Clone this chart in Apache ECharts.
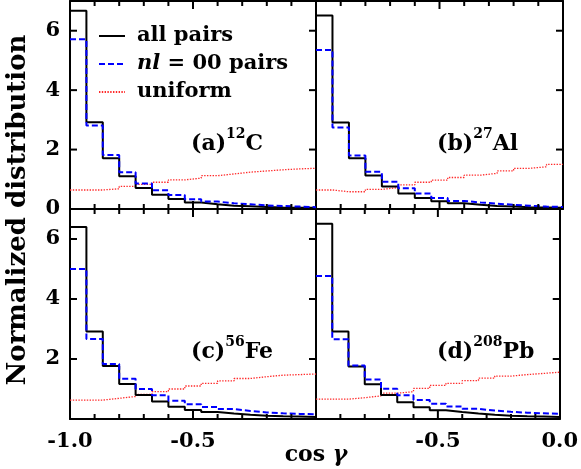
<!DOCTYPE html>
<html><head><meta charset="utf-8">
<script src="https://cdn.jsdelivr.net/npm/echarts@6/dist/echarts.min.js"></script>
<style>html,body{margin:0;padding:0;background:#fff}#c{width:581px;height:469px}</style>
</head><body><div id="c"></div>
<script>
// bin edges of cos(gamma) histogram (15 bins)
const binEdges = [-1.0, -0.9333, -0.8667, -0.8, -0.7333, -0.6667, -0.6, -0.5333, -0.4667, -0.4, -0.3333, -0.2667, -0.2, -0.1333, -0.0667, 0.0];
const xTickLabels = ['-1.0', '-0.5', '0.0'];
const yTickLabels = ['0', '2', '4', '6'];
const xMinorTicks = [-0.9, -0.8, -0.7, -0.6, -0.4, -0.3, -0.2, -0.1];
const xMajorTicks = [-0.5];
const yMajorTicks = [2, 4, 6];
const panelTags = ['(a)', '(b)', '(c)', '(d)'];
const massNumbers = ['12', '27', '56', '208'];
const elements = ['C', 'Al', 'Fe', 'Pb'];
const seriesNames = ['all pairs', 'nl = 00 pairs', 'uniform'];

// (a) 12C
const allC   = [6.67, 2.92, 1.71, 1.10, 0.71, 0.48, 0.34, 0.22, 0.16, 0.11, 0.09, 0.07, 0.05, 0.04, 0.04];
const nl00C  = [5.71, 2.81, 1.82, 1.24, 0.86, 0.63, 0.47, 0.33, 0.25, 0.19, 0.16, 0.12, 0.10, 0.08, 0.06];
const uniC   = [0.64, 0.64, 0.68, 0.76, 0.83, 0.90, 0.98, 1.04, 1.12, 1.18, 1.24, 1.28, 1.32, 1.35, 1.37];
// (b) 27Al
const allAl  = [6.51, 2.91, 1.71, 1.13, 0.76, 0.52, 0.37, 0.26, 0.19, 0.14, 0.10, 0.08, 0.06, 0.05, 0.04];
const nl00Al = [5.35, 2.74, 1.80, 1.25, 0.92, 0.70, 0.52, 0.37, 0.27, 0.22, 0.18, 0.14, 0.11, 0.08, 0.07];
const uniAl  = [0.64, 0.58, 0.58, 0.66, 0.72, 0.81, 0.90, 0.97, 1.06, 1.14, 1.20, 1.28, 1.37, 1.42, 1.50];
// (c) 56Fe
const allFe  = [6.40, 2.92, 1.77, 1.17, 0.80, 0.58, 0.41, 0.30, 0.23, 0.18, 0.14, 0.11, 0.09, 0.08, 0.07];
const nl00Fe = [5.00, 2.67, 1.83, 1.34, 1.00, 0.79, 0.61, 0.49, 0.40, 0.33, 0.27, 0.22, 0.19, 0.17, 0.16];
const uniFe  = [0.63, 0.63, 0.69, 0.75, 0.82, 0.91, 1.00, 1.10, 1.19, 1.27, 1.35, 1.41, 1.46, 1.48, 1.50];
// (d) 208Pb
const allPb  = [6.51, 2.92, 1.75, 1.16, 0.80, 0.56, 0.39, 0.29, 0.23, 0.18, 0.14, 0.11, 0.09, 0.08, 0.07];
const nl00Pb = [4.77, 2.66, 1.78, 1.32, 1.01, 0.79, 0.63, 0.51, 0.42, 0.34, 0.28, 0.24, 0.21, 0.19, 0.17];
const uniPb  = [0.66, 0.66, 0.71, 0.77, 0.86, 0.91, 1.02, 1.12, 1.19, 1.28, 1.36, 1.43, 1.48, 1.52, 1.56];

const panels = [
  {all: allC, nl: nl00C, uni: uniC},
  {all: allAl, nl: nl00Al, uni: uniAl},
  {all: allFe, nl: nl00Fe, uni: uniFe},
  {all: allPb, nl: nl00Pb, uni: uniPb}
];

const FONT = 'DejaVu Serif';
const X_MIN = -1, X_MAX = 0, Y_MIN = 0, Y_MAX = 7;
const grids = [
  {left: 70, top: 1, width: 246, height: 208},
  {left: 316, top: 1, width: 247, height: 208},
  {left: 70, top: 209, width: 246, height: 210},
  {left: 316, top: 209, width: 247, height: 210}
];

function stepData(vals) {
  return binEdges.map((x, i) => [x, vals[Math.min(i, vals.length - 1)]]);
}
function fmt(v) { return (Math.round(v * 10) / 10).toFixed(1); }
function line() { return {show: true, onZero: false, lineStyle: {color: '#000', width: 2}}; }

// tick items: [x, y, kind]  kind 0 = minor x, 1 = major x, 2 = y
const tickItems = [].concat(
  xMinorTicks.map(v => [v, Y_MIN, 0]),
  xMajorTicks.map(v => [v, Y_MIN, 1]),
  yMajorTicks.map(v => [X_MIN, v, 2])
);

const xAxes = [], yAxes = [], series = [];
panels.forEach((p, i) => {
  const isLeft = (i % 2 === 0), isBottom = (i >= 2);
  const xi = xAxes.length, yi = yAxes.length;
  xAxes.push({
    type: 'value', gridIndex: i, min: X_MIN, max: X_MAX, interval: 0.5, position: 'bottom',
    axisLine: line(), splitLine: {show: false}, axisTick: {show: false},
    axisLabel: {
      show: isBottom, margin: 12,
      fontFamily: FONT, fontWeight: 'bold', fontSize: 21, color: '#000',
      formatter: v => {
        const s = fmt(v);
        if (!xTickLabels.includes(s)) return '';
        if (isLeft && s === '0.0') return '';
        if (!isLeft && s === '-1.0') return '';
        return s;
      }
    }
  });
  xAxes.push({
    type: 'value', gridIndex: i, min: X_MIN, max: X_MAX, position: 'top',
    axisLine: line(), splitLine: {show: false}, axisTick: {show: false}, axisLabel: {show: false}
  });
  yAxes.push({
    type: 'value', gridIndex: i, min: Y_MIN, max: Y_MAX, interval: 2, position: 'left',
    axisLine: line(), splitLine: {show: false}, axisTick: {show: false},
    axisLabel: {
      show: isLeft, margin: 10,
      fontFamily: FONT, fontWeight: 'bold', fontSize: 21, color: '#000',
      formatter: v => {
        const s = String(Math.round(v));
        if (!yTickLabels.includes(s) || Math.abs(v - Math.round(v)) > 1e-6) return '';
        if (isBottom && s === '0') return '';
        return s;
      }
    }
  });
  yAxes.push({
    type: 'value', gridIndex: i, min: Y_MIN, max: Y_MAX, position: 'right',
    axisLine: line(), splitLine: {show: false}, axisTick: {show: false}, axisLabel: {show: false}
  });

  series.push({
    name: seriesNames[2], type: 'line', step: 'end', xAxisIndex: xi, yAxisIndex: yi,
    data: stepData(p.uni), symbol: 'none', z: 2,
    lineStyle: {color: '#ff2a2a', width: 1.3, type: [1.4, 1.4]}, itemStyle: {color: '#ff2a2a'}
  });
  series.push({
    name: seriesNames[0], type: 'line', step: 'end', xAxisIndex: xi, yAxisIndex: yi,
    data: stepData(p.all), symbol: 'none', z: 3,
    lineStyle: {color: '#000', width: 2}, itemStyle: {color: '#000'}
  });
  series.push({
    name: seriesNames[1], type: 'line', step: 'end', xAxisIndex: xi, yAxisIndex: yi,
    data: stepData(p.nl), symbol: 'none', z: 4,
    lineStyle: {color: '#0000ff', width: 2, type: [6, 3]}, itemStyle: {color: '#0000ff'}
  });
  // inward tick marks on the frame, placed through the axes' scales
  series.push({
    name: 'ticks' + i, type: 'custom', xAxisIndex: xi, yAxisIndex: yi, z: 6, clip: false, silent: true,
    encode: {x: 0, y: 1},
    data: tickItems,
    renderItem: (params, api) => {
      const kind = api.value(2);
      const st = {stroke: '#000', lineWidth: 2};
      const children = [];
      if (kind < 2) {
        const v = api.value(0);
        const len = kind === 1 ? 8 : 5;
        const b = api.coord([v, Y_MIN]), t = api.coord([v, Y_MAX]);
        children.push({type: 'line', shape: {x1: b[0], y1: b[1], x2: b[0], y2: b[1] - len}, style: st});
        children.push({type: 'line', shape: {x1: t[0], y1: t[1], x2: t[0], y2: t[1] + len}, style: st});
      } else {
        const v = api.value(1);
        const l = api.coord([X_MIN, v]), r = api.coord([X_MAX, v]);
        children.push({type: 'line', shape: {x1: r[0], y1: r[1], x2: r[0] - 7, y2: r[1]}, style: st});
        if (isLeft) {
          children.push({type: 'line', shape: {x1: l[0], y1: l[1], x2: l[0] + 7, y2: l[1]}, style: st});
        }
      }
      return {type: 'group', children: children};
    }
  });
});

const graphic = [];
const labelPos = [[191, 127], [437, 127], [191, 335], [437, 335]];
panels.forEach((p, i) => {
  graphic.push({
    type: 'text', left: labelPos[i][0], top: labelPos[i][1], z: 10,
    style: {
      text: '{p|' + panelTags[i] + '}{s|' + massNumbers[i] + '}{e|' + elements[i] + '}',
      rich: {
        p: {fontFamily: FONT, fontSize: 22, fontWeight: 'bold', fill: '#000', lineHeight: 28, verticalAlign: 'bottom'},
        s: {fontFamily: FONT, fontSize: 14, fontWeight: 'bold', fill: '#000', lineHeight: 25, verticalAlign: 'top'},
        e: {fontFamily: FONT, fontSize: 22, fontWeight: 'bold', fill: '#000', lineHeight: 28, verticalAlign: 'bottom'}
      }
    }
  });
});
graphic.push({
  type: 'text', x: 18, y: 210, rotation: Math.PI / 2, z: 10,
  style: {text: 'Normalized distribution', fontFamily: FONT, fontWeight: 'bold', fontSize: 26,
          fill: '#000', align: 'center', verticalAlign: 'middle'}
});
graphic.push({
  type: 'text', x: 316, y: 455, z: 10,
  style: {
    text: '{n|cos }{g|γ}', align: 'center', verticalAlign: 'middle',
    rich: {
      n: {fontFamily: FONT, fontWeight: 'bold', fontSize: 22, fill: '#000'},
      g: {fontFamily: FONT, fontWeight: 'bold', fontStyle: 'italic', fontSize: 22, fill: '#000'}
    }
  }
});

const chart = echarts.init(document.getElementById('c'), null, {renderer: 'canvas'});
chart.setOption({
  animation: false,
  backgroundColor: '#fff',
  grid: grids,
  xAxis: xAxes,
  yAxis: yAxes,
  series: series,
  graphic: graphic,
  legend: {
    left: 93, top: 20, orient: 'vertical', selectedMode: false,
    itemWidth: 26, itemHeight: 12, itemGap: 6,
    data: seriesNames,
    itemStyle: {color: 'rgba(0,0,0,0)', borderColor: 'rgba(0,0,0,0)', borderWidth: 0, opacity: 0},
    formatter: name => name === 'nl = 00 pairs' ? '{i|nl} = 00 pairs' : name,
    textStyle: {
      fontFamily: FONT, fontWeight: 'bold', fontSize: 21, color: '#000', lineHeight: 22, padding: [0, 0, 0, 7],
      rich: {i: {fontFamily: FONT, fontWeight: 'bold', fontStyle: 'italic', fontSize: 21, color: '#000', lineHeight: 22}}
    }
  }
});
</script>
</body></html>
